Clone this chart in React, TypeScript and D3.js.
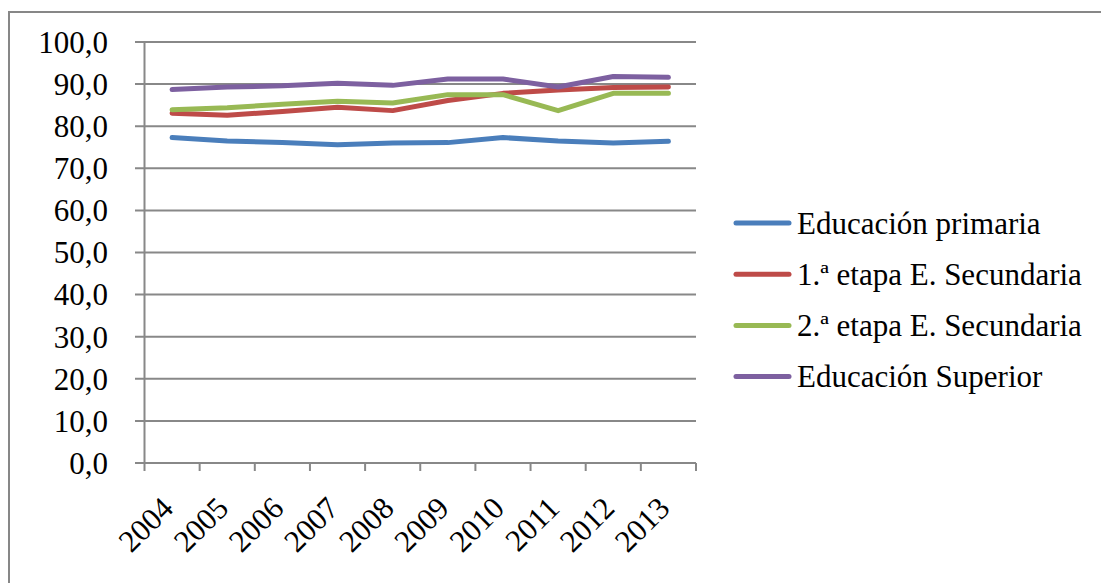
import * as d3 from "d3";

const years = ["2004", "2005", "2006", "2007", "2008", "2009", "2010", "2011", "2012", "2013"];
const primaria = [77.3, 76.5, 76.1, 75.6, 76.0, 76.1, 77.3, 76.5, 76.0, 76.4];
const secundaria1 = [83.1, 82.6, 83.5, 84.5, 83.7, 86.1, 87.8, 88.6, 89.2, 89.3];
const secundaria2 = [83.9, 84.4, 85.2, 85.9, 85.5, 87.5, 87.5, 83.7, 87.8, 87.8];
const superior = [88.7, 89.3, 89.6, 90.2, 89.7, 91.2, 91.2, 89.3, 91.8, 91.6];
const yTicks = [0, 10, 20, 30, 40, 50, 60, 70, 80, 90, 100];

const series = [
  { name: "Educación primaria", values: primaria, color: "#4A7EBB" },
  { name: "1.ª etapa E. Secundaria", values: secundaria1, color: "#BE4B48" },
  { name: "2.ª etapa E. Secundaria", values: secundaria2, color: "#98B954" },
  { name: "Educación Superior", values: superior, color: "#7D60A0" },
];

const W = 1101;
const H = 583;
const FS = 31;

export default function App() {
  const x = d3.scaleBand().domain(years).range([144.5, 696]);
  const y = d3.scaleLinear().domain([0, 100]).range([463, 42]);
  const cx = (d: string) => (x(d) ?? 0) + x.bandwidth() / 2;

  const line = d3
    .line<number>()
    .x((_d, i) => cx(years[i]))
    .y((d) => y(d));

  const fmt = (v: number) => v.toFixed(1).replace(".", ",");

  return (
    <svg
      width={W}
      height={H}
      style={{ position: "absolute", left: 0, top: 0, background: "#fff", fontFamily: "Liberation Serif, serif" }}
    >
      <rect x={9} y={12} width={W} height={H} fill="#fff" stroke="#878787" strokeWidth={2} />

      {/* grid + y axis */}
      {yTicks.map((t) => (
        <g key={t}>
          <line x1={135} x2={696} y1={y(t)} y2={y(t)} stroke="#888" strokeWidth={2} />
          <text x={108} y={y(t)} dy="0.35em" textAnchor="end" fontSize={FS} fill="#000">
            {fmt(t)}
          </text>
        </g>
      ))}
      <line x1={144.5} x2={144.5} y1={42} y2={471} stroke="#888" strokeWidth={2} />

      {/* x ticks */}
      {years.map((yr) => (
        <line
          key={"t" + yr}
          x1={(x(yr) ?? 0) + x.bandwidth()}
          x2={(x(yr) ?? 0) + x.bandwidth()}
          y1={463}
          y2={471}
          stroke="#888"
          strokeWidth={2}
        />
      ))}
      {years.map((yr) => (
        <text
          key={yr}
          transform={`translate(${cx(yr) + 3},${510}) rotate(-45)`}
          textAnchor="end"
          fontSize={FS}
          fill="#000"
        >
          {yr}
        </text>
      ))}

      {/* lines */}
      {series.map((s) => (
        <path
          key={s.name}
          d={line(s.values) ?? ""}
          fill="none"
          stroke={s.color}
          strokeWidth={5}
          strokeLinecap="round"
          strokeLinejoin="round"
        />
      ))}

      {/* legend */}
      {series.map((s, i) => {
        const ly = 223 + i * 51.2;
        return (
          <g key={"l" + s.name}>
            <line x1={736} x2={789} y1={ly} y2={ly} stroke={s.color} strokeWidth={5} strokeLinecap="round" />
            <text x={797} y={ly} dy="0.35em" fontSize={FS} fill="#000">
              {s.name}
            </text>
          </g>
        );
      })}
    </svg>
  );
}
